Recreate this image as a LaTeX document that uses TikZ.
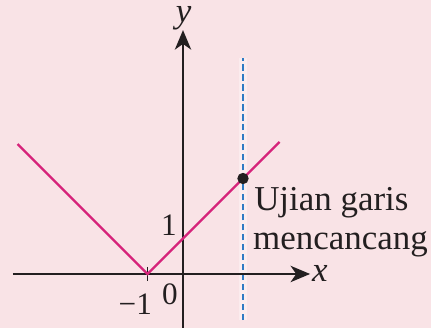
\documentclass[tikz,border=0pt]{standalone}
\usepackage{fontspec}
\setmainfont{Liberation Serif}
\usetikzlibrary{arrows.meta}
\definecolor{bgpink}{RGB}{249,227,230}
\definecolor{graphmag}{RGB}{214,35,122}
\definecolor{testblue}{RGB}{46,123,196}
\definecolor{axisblk}{RGB}{35,31,32}
\tikzset{
  axisline/.style={draw=axisblk, line width=1.5pt, -{Stealth[length=5.5mm,width=4.6mm,inset=1.6mm]}},
  graphline/.style={draw=graphmag, line width=1.9pt},
  testline/.style={draw=testblue, line width=1.9pt, dash pattern=on 5pt off 3pt},
  numlabel/.style={inner sep=0pt, font=\fontsize{25}{30}\selectfont, text=axisblk},
  axislabel/.style={inner sep=0pt, font=\fontsize{28}{32}\selectfont\itshape, text=axisblk},
  notelabel/.style={inner sep=0pt, anchor=base west, font=\fontsize{28}{32}\selectfont, text=axisblk},
}
\begin{document}
\begin{tikzpicture}
\fill[bgpink] (-5.155,-1.521) rectangle (6.986,7.718);
\useasboundingbox (-5.155,-1.521) rectangle (6.986,7.718);
% coordinates
\coordinate (xs) at (-4.79,0);
\coordinate (xe) at (3.58,0);
\coordinate (ys) at (0,-1.6);
\coordinate (ye) at (0,6.87);
\coordinate (ts) at (1.69,-1.3);
\coordinate (te) at (1.69,6.08);
\coordinate (gl) at (-4.66,3.66);
\coordinate (gv) at (-1,0);
\coordinate (gr) at (2.72,3.72);
\coordinate (tt) at (-1,0.2);
\coordinate (tb) at (-1,-0.2);
% test line halo and dashed line
\draw[white, opacity=0.35, line width=7pt] (ts) -- (te);
\draw[testline] (ts) -- (te);
% axes
\draw[axisline] (xs) -- (xe);
\draw[axisline] (ys) -- (ye);
\draw[axisblk, line width=1.5pt] (tt) -- (tb);
% graph
\draw[graphline, line join=miter] (gl) -- (gv) -- (gr);
\node[circle, fill=axisblk, inner sep=0pt, minimum size=3.2mm] (dot) at (1.69,2.69) {};
% labels
\node[axislabel, anchor=base] (ylab) at (0.02,7.08) {y};
\node[axislabel, anchor=base west] (xlab) at (3.63,-0.2) {x};
\node[numlabel, anchor=base east] (one) at (-0.17,1.07) {1};
\node[numlabel, anchor=base] (zero) at (-0.37,-0.85) {0};
\node[numlabel, anchor=base east] (mone) at (-0.87,-1.13) {−1};
\node[notelabel] (n1) at (2.0,1.80) {Ujian garis};
\node[notelabel] (n2) at (1.97,0.676) {mencancang};
\end{tikzpicture}
\end{document}
